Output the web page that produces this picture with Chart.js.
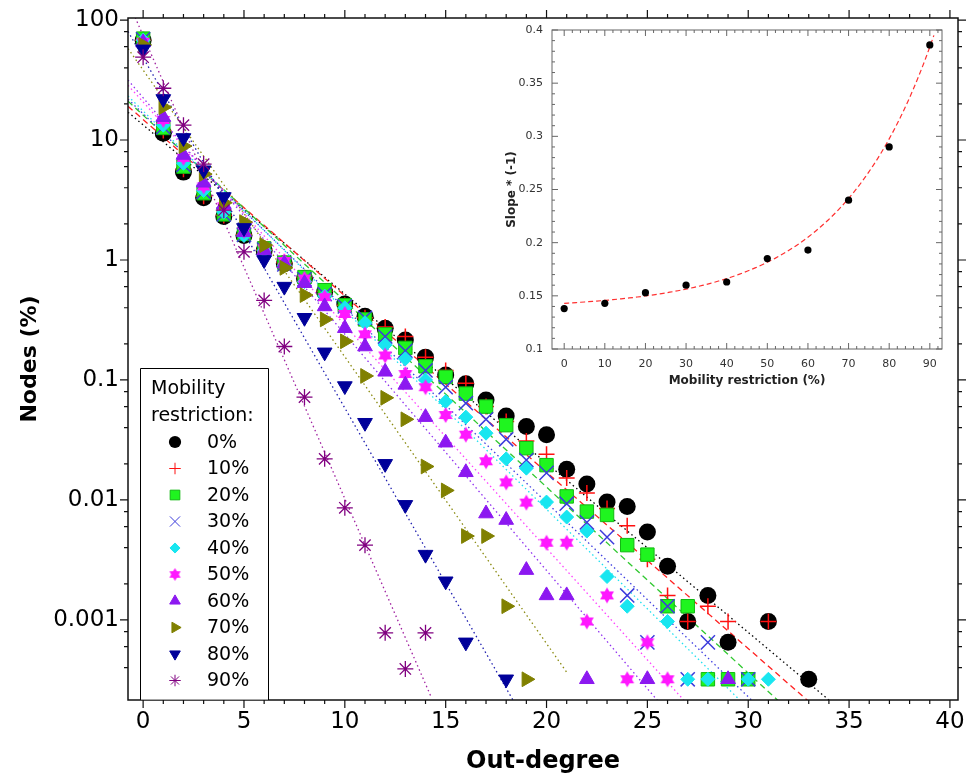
<!DOCTYPE html>
<html>
<head>
<meta charset="utf-8">
<script src="https://cdn.jsdelivr.net/npm/chart.js@4.4.1/dist/chart.umd.min.js"></script>
<style>
  body { margin: 0; background: #fff; }
  #wrap { position: relative; width: 977px; height: 778px; }
  #main { position: absolute; left: 0; top: 0; }
  #inset { position: absolute; left: 490px; top: 24px; background: #fff; }
</style>
</head>
<body>
<div id="wrap">
  <canvas id="main" width="977" height="778"></canvas>
  <canvas id="inset" width="460" height="368"></canvas>
</div>
<script>
// main chart data: % of nodes per out-degree (index = out-degree)
var outDegree = [];
for (var d = 0; d <= 33; d++) outDegree.push(d);

var seriesLabels = ['0%', '10%', '20%', '30%', '40%', '50%', '60%', '70%', '80%', '90%'];

var nodes00 = [68, 11.4, 5.4, 3.3, 2.3, 1.6, 1.2, 0.93, 0.7, 0.54, 0.43, 0.34, 0.27, 0.215, 0.155, 0.11, 0.093, 0.068, 0.05, 0.041, 0.035, 0.018, 0.0136, 0.0096, 0.0088, 0.0054, 0.0028, 0.00097, 0.0016, 0.00065, null, 0.00097, null, 0.00032];
var nodes10 = [68, 12, 5.7, 3.4, 2.35, 1.63, 1.22, 0.95, 0.71, 0.55, 0.42, 0.33, 0.277, 0.23, 0.155, 0.12, 0.094, 0.06, 0.045, 0.031, 0.024, 0.0152, 0.0114, 0.0085, 0.0061, 0.0032, 0.0016, 0.00097, 0.0013, 0.00097, null, 0.00097];
var nodes20 = [70, 12.6, 6.0, 3.6, 2.4, 1.65, 1.25, 0.95, 0.72, 0.56, 0.42, 0.32, 0.24, 0.185, 0.13, 0.106, 0.077, 0.06, 0.042, 0.027, 0.0195, 0.0107, 0.008, 0.0075, 0.0042, 0.0035, 0.0013, 0.0013, 0.00032, 0.00032, 0.00032];
var nodes30 = [69, 12.8, 6.2, 3.7, 2.4, 1.62, 1.22, 0.92, 0.69, 0.52, 0.41, 0.33, 0.23, 0.175, 0.12, 0.087, 0.064, 0.047, 0.032, 0.0215, 0.0168, 0.0093, 0.0065, 0.0049, 0.0016, 0.00065, 0.0013, 0.00032, 0.00065, null, 0.00032];
var nodes40 = [68, 13.3, 6.4, 3.8, 2.5, 1.6, 1.2, 0.9, 0.66, 0.5, 0.40, 0.30, 0.196, 0.15, 0.10, 0.066, 0.049, 0.036, 0.022, 0.0184, 0.0096, 0.0072, 0.0055, 0.0023, 0.0013, null, 0.00097, 0.00032, 0.00032, null, 0.00032, 0.00032];
var nodes50 = [66, 14.7, 7.1, 4.1, 2.8, 1.75, 1.25, 0.98, 0.7, 0.49, 0.355, 0.24, 0.16, 0.112, 0.087, 0.051, 0.035, 0.021, 0.014, 0.0095, 0.0044, 0.0044, 0.00097, 0.0016, 0.00032, 0.00065, 0.00032];
var nodes60 = [65, 15.5, 7.5, 4.4, 2.9, 1.7, 1.2, 0.93, 0.64, 0.41, 0.27, 0.19, 0.117, 0.091, 0.049, 0.030, 0.017, 0.0077, 0.0068, 0.0026, 0.0016, 0.0016, 0.00032, null, null, 0.00032, null, null, null, 0.00032];
var nodes70 = [62, 18.8, 8.9, 5.2, 3.0, 2.07, 1.33, 0.86, 0.51, 0.32, 0.21, 0.108, 0.071, 0.047, 0.019, 0.012, 0.005, 0.005, 0.0013, 0.00032];
var nodes80 = [57, 22, 10.4, 5.6, 3.35, 1.85, 1.0, 0.6, 0.33, 0.17, 0.089, 0.044, 0.020, 0.0091, 0.0035, 0.0021, 0.00065, null, 0.00032];
var nodes90 = [49, 27, 13.3, 6.3, 2.6, 1.17, 0.46, 0.19, 0.072, 0.022, 0.0086, 0.0042, 0.00078, 0.00039, 0.00078];
var nodeSeries = [nodes00, nodes10, nodes20, nodes30, nodes40, nodes50, nodes60, nodes70, nodes80, nodes90];

// fitted lines: log10(nodes) = fitIntercept - fitSlope * degree
var fitIntercept = [1.126, 1.171, 1.207, 1.219, 1.242, 1.317, 1.352, 1.583, 1.686, 1.87];
var fitSlope = [0.141, 0.147, 0.155, 0.162, 0.166, 0.186, 0.197, 0.239, 0.292, 0.386];
var fitEnd = [34.2, 33.1, 31.6, 30.4, 29.7, 27.0, 25.7, 21.0, 18.6, 14.3];

var xTicksMain = [0, 5, 10, 15, 20, 25, 30, 35, 40];
var yTicksMain = [0.001, 0.01, 0.1, 1, 10, 100];

// inset data
var restriction = [0, 10, 20, 30, 40, 50, 60, 70, 80, 90];
var slopeValues = [0.138, 0.143, 0.153, 0.160, 0.163, 0.185, 0.193, 0.240, 0.290, 0.386];
var slopeFitBase = 0.138, slopeFitAmp = 0.005, slopeFitScale = 23.1;
var xTicksInset = [0, 10, 20, 30, 40, 50, 60, 70, 80, 90];
var yTicksInset = [0.1, 0.15, 0.2, 0.25, 0.3, 0.35, 0.4];

Chart.defaults.font.family = "'DejaVu Sans', sans-serif";
Chart.defaults.color = '#000';

function hexagram(color, r) {
    var s = Math.ceil(r * 2 + 2);
    var c = document.createElement('canvas');
    c.width = s; c.height = s;
    var g = c.getContext('2d');
    g.fillStyle = color;
    [-Math.PI / 2, Math.PI / 2].forEach(function (start) {
        g.beginPath();
        for (var i = 0; i < 3; i++) {
            var t = start + i * 2 * Math.PI / 3;
            g.lineTo(s / 2 + r * Math.cos(t), s / 2 + r * Math.sin(t));
        }
        g.closePath();
        g.fill();
    });
    return c;
}

// marker look per series
var markers = [
    { style: 'circle', r: 8.5, fill: '#000', line: '#000', w: 0, rot: 0, fit: '#000', dash: [1.5, 3] },
    { style: 'cross', r: 8, fill: 'rgba(0,0,0,0)', line: '#ff1010', w: 1.5, rot: 0, fit: '#ff2020', dash: [6, 4] },
    { style: 'rect', r: 9.5, fill: '#1ff51f', line: '#12b812', w: 1, rot: 0, fit: '#30c830', dash: [6, 4] },
    { style: 'crossRot', r: 10, fill: 'rgba(0,0,0,0)', line: '#3c3cdc', w: 1.5, rot: 0, fit: '#4040e0', dash: [1.5, 3] },
    { style: 'rectRot', r: 7, fill: '#18e6f0', line: '#18e6f0', w: 1, rot: 0, fit: '#20e0f0', dash: [1.5, 3] },
    { style: hexagram('#ff18ff', 8), legend: hexagram('#ff18ff', 6.5), r: 8, fill: '#ff18ff', line: '#ff18ff', w: 0, rot: 0, fit: '#ff40ff', dash: [1.5, 3] },
    { style: 'triangle', r: 8.5, fill: '#8c18f0', line: '#8c18f0', w: 1, rot: 0, fit: '#9030f0', dash: [1.5, 3] },
    { style: 'triangle', r: 8.5, fill: '#808000', line: '#808000', w: 1, rot: 90, fit: '#8a8a10', dash: [1.5, 3] },
    { style: 'triangle', r: 8.5, fill: '#00009a', line: '#00009a', w: 1, rot: 180, fit: '#2020b0', dash: [1.5, 3] },
    { style: 'star', r: 8, fill: 'rgba(0,0,0,0)', line: '#800080', w: 1.3, rot: 0, fit: '#a020a0', dash: [1.5, 3] }
];

var datasets = [];
nodeSeries.forEach(function (vals, i) {
    var m = markers[i];
    var pts = [];
    vals.forEach(function (v, k) {
        if (v !== null) pts.push({ x: outDegree[k], y: v });
    });
    datasets.push({
        label: seriesLabels[i],
        data: pts,
        pointStyle: m.style,
        pointRadius: m.r,
        pointRotation: m.rot,
        pointBackgroundColor: m.fill,
        pointBorderColor: m.line,
        pointBorderWidth: m.w,
        showLine: false,
        order: 20 - i
    });
});
fitIntercept.forEach(function (a, i) {
    var m = markers[i];
    var x0 = -0.75, x1 = fitEnd[i];
    datasets.push({
        label: 'fit ' + seriesLabels[i],
        data: [
            { x: x0, y: Math.pow(10, a - fitSlope[i] * x0) },
            { x: x1, y: Math.pow(10, a - fitSlope[i] * x1) }
        ],
        showLine: true,
        borderColor: m.fit,
        borderWidth: 1.3,
        borderDash: m.dash,
        pointRadius: 0,
        fill: false,
        order: 40 - i
    });
});

// frame with tick marks on all four sides
var frameTicks = {
    id: 'frameTicks',
    afterDatasetsDraw: function (chart, args, o) {
        var ctx = chart.ctx, a = chart.chartArea;
        var x = chart.scales.x, y = chart.scales.y;
        var dir = o.inside ? -1 : 1;
        ctx.save();
        ctx.strokeStyle = o.color;
        ctx.lineWidth = o.width;
        ctx.strokeRect(a.left, a.top, a.right - a.left, a.bottom - a.top);
        ctx.lineWidth = o.tickWidth;
        ctx.beginPath();
        o.xMarks.forEach(function (t) {
            var px = x.getPixelForValue(t[0]);
            ctx.moveTo(px, a.bottom); ctx.lineTo(px, a.bottom + dir * t[1]);
            ctx.moveTo(px, a.top); ctx.lineTo(px, a.top - dir * t[1]);
        });
        o.yMarks.forEach(function (t) {
            var py = y.getPixelForValue(t[0]);
            ctx.moveTo(a.left, py); ctx.lineTo(a.left - dir * t[1], py);
            ctx.moveTo(a.right, py); ctx.lineTo(a.right + dir * t[1], py);
        });
        ctx.stroke();
        ctx.restore();
    }
};

var boxLegend = {
    id: 'boxLegend',
    afterDraw: function (chart) {
        var ctx = chart.ctx;
        ctx.save();
        ctx.fillStyle = '#fff';
        ctx.fillRect(140.5, 368.5, 128, 331);
        ctx.strokeStyle = '#000';
        ctx.lineWidth = 1;
        ctx.beginPath();
        ctx.moveTo(140.5, 700); ctx.lineTo(140.5, 368.5); ctx.lineTo(268.5, 368.5); ctx.lineTo(268.5, 700);
        ctx.stroke();
        ctx.font = "19px 'DejaVu Sans'";
        ctx.textBaseline = 'middle';
        ctx.fillStyle = '#000';
        ctx.fillText('Mobility', 151, 389);
        ctx.fillText('restriction:', 151, 416);
        seriesLabels.forEach(function (lab, i) {
            var m = markers[i];
            var yy = 442 + i * 26.5;
            ctx.fillStyle = m.fill;
            ctx.strokeStyle = m.line;
            Chart.helpers.drawPoint(ctx, {
                pointStyle: m.legend || m.style,
                rotation: m.rot,
                radius: m.r * 0.72,
                borderWidth: m.w
            }, 175, yy);
            ctx.fillStyle = '#000';
            ctx.fillText(lab, 207, yy + 1);
        });
        ctx.restore();
    }
};

// keep tick labels from pushing the plot area around
function noPadX(w) { return function (s) { s.height = w; s.paddingLeft = 0; s.paddingRight = 0; }; }
function noPadY(w) { return function (s) { s.width = w; s.paddingTop = 0; s.paddingBottom = 0; }; }

var xMarksMain = [];
for (var v = 0; v <= 40; v++) xMarksMain.push([v, v % 5 === 0 ? 8 : 4]);
var yMarksMain = [];
[-4, -3, -2, -1, 0, 1, 2].forEach(function (k) {
    [1, 2, 4, 6, 8].forEach(function (f) {
        var val = f * Math.pow(10, k);
        if (val >= 0.000215 && val <= 104) yMarksMain.push([val, f === 1 ? 8 : 4]);
    });
});

new Chart(document.getElementById('main'), {
    type: 'scatter',
    data: { datasets: datasets },
    plugins: [frameTicks, boxLegend],
    options: {
        responsive: false,
        animation: false,
        events: [],
        layout: { padding: { left: 0, top: 18, right: 19, bottom: 0 } },
        plugins: {
            legend: { display: false },
            tooltip: { enabled: false },
            frameTicks: { xMarks: xMarksMain, yMarks: yMarksMain, inside: false, color: '#111', width: 1.5, tickWidth: 1.2 }
        },
        scales: {
            x: {
                type: 'linear',
                min: -0.75,
                max: 40.4,
                afterBuildTicks: function (s) { s.ticks = xTicksMain.map(function (t) { return { value: t }; }); },
                afterFit: noPadX(78),
                grid: { display: false, drawTicks: false },
                border: { display: false },
                ticks: { font: { size: 23 }, padding: 8, maxRotation: 0, autoSkip: false },
                title: { display: true, text: 'Out-degree', font: { size: 24, weight: 'bold' }, padding: 2 }
            },
            y: {
                type: 'logarithmic',
                min: 0.000215,
                max: 104,
                bounds: 'data',
                afterBuildTicks: function (s) { s.ticks = yTicksMain.map(function (t) { return { value: t }; }); },
                afterFit: noPadY(128),
                grid: { display: false, drawTicks: false },
                border: { display: false },
                ticks: { font: { size: 23 }, padding: 9, autoSkip: false, callback: function (v) { return String(v); } },
                title: { display: true, text: 'Nodes (%)', font: { size: 22, weight: 'bold' }, padding: 17 }
            }
        }
    }
});

// inset
var fitCurve = [];
for (var r = 0; r <= 91; r++) {
    fitCurve.push({ x: r, y: slopeFitBase + slopeFitAmp * Math.exp(r / slopeFitScale) });
}
var xMarksInset = [];
for (var xi = 0; xi <= 92; xi += 2) xMarksInset.push([xi, xi % 10 === 0 ? 6 : 3]);
var yMarksInset = [];
for (var yi = 10; yi <= 40; yi++) yMarksInset.push([yi / 100, yi % 5 === 0 ? 6 : 3]);

new Chart(document.getElementById('inset'), {
    type: 'scatter',
    data: {
        datasets: [{
            label: 'Slope',
            data: restriction.map(function (x, i) { return { x: x, y: slopeValues[i] }; }),
            pointRadius: 3.6,
            pointBackgroundColor: '#000',
            pointBorderWidth: 0,
            order: 1
        }, {
            label: 'fit',
            data: fitCurve,
            showLine: true,
            borderColor: '#ff3030',
            borderWidth: 1.2,
            borderDash: [5, 3],
            pointRadius: 0,
            order: 2
        }]
    },
    plugins: [frameTicks],
    options: {
        responsive: false,
        animation: false,
        events: [],
        layout: { padding: { left: 0, top: 6, right: 8, bottom: 0 } },
        plugins: {
            legend: { display: false },
            tooltip: { enabled: false },
            frameTicks: { xMarks: xMarksInset, yMarks: yMarksInset, inside: true, color: '#666', width: 1, tickWidth: 1 }
        },
        scales: {
            x: {
                type: 'linear',
                min: -3,
                max: 93,
                afterBuildTicks: function (s) { s.ticks = xTicksInset.map(function (t) { return { value: t }; }); },
                afterFit: noPadX(43),
                grid: { display: false, drawTicks: false },
                border: { display: false },
                ticks: { font: { size: 11 }, color: '#333', padding: 9, maxRotation: 0, autoSkip: false },
                title: { display: true, text: 'Mobility restriction (%)', color: '#222', font: { size: 12, weight: 'bold' }, padding: 4 }
            },
            y: {
                type: 'linear',
                min: 0.1,
                max: 0.4,
                afterBuildTicks: function (s) { s.ticks = yTicksInset.map(function (t) { return { value: t }; }); },
                afterFit: noPadY(62),
                grid: { display: false, drawTicks: false },
                border: { display: false },
                ticks: { font: { size: 11 }, color: '#333', padding: 9, autoSkip: false, callback: function (v) { return String(v); } },
                title: { display: true, text: 'Slope * (-1)', color: '#222', font: { size: 12, weight: 'bold' }, padding: 15 }
            }
        }
    }
});
</script>
</body>
</html>
